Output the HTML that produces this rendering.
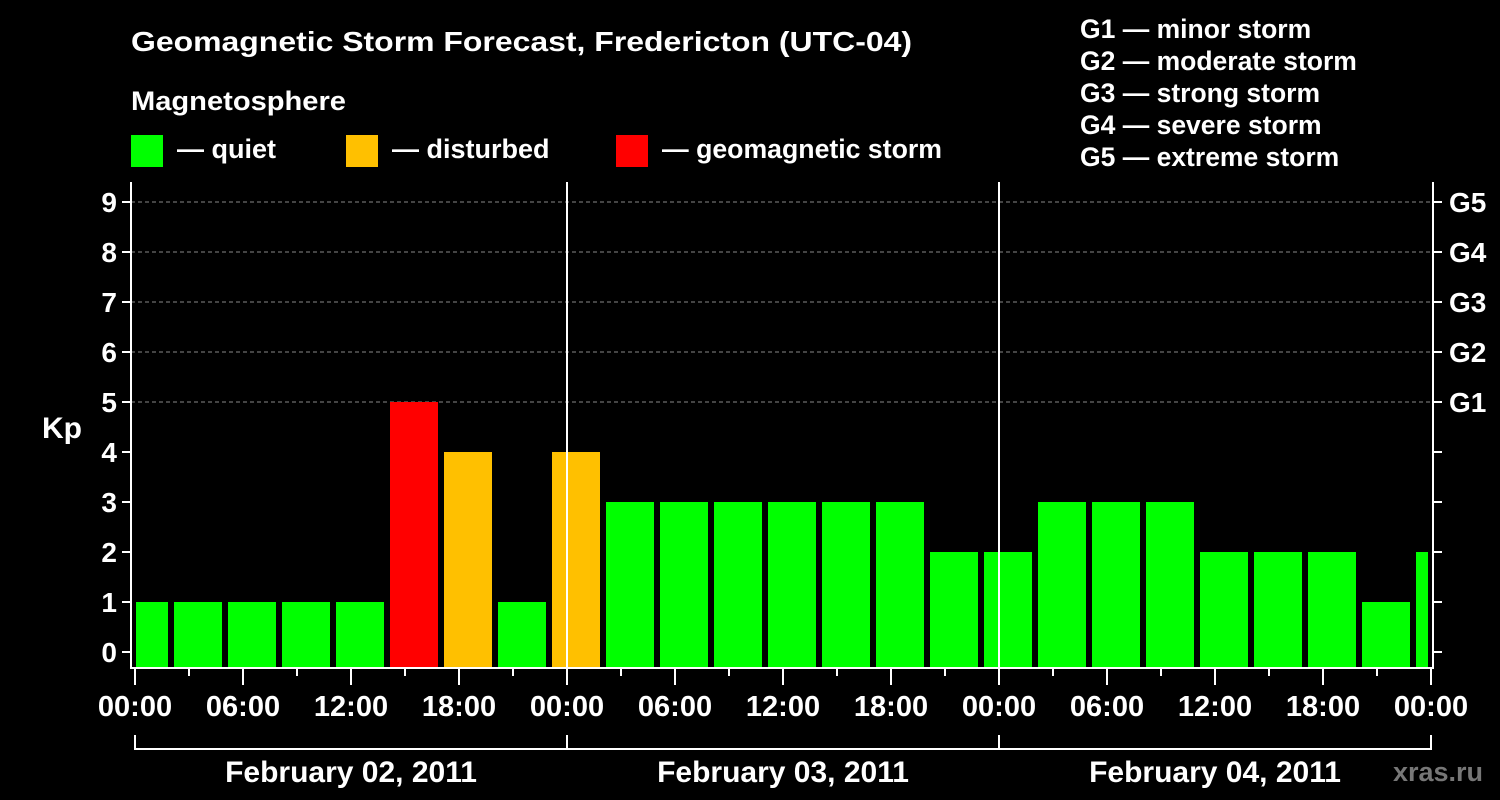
<!DOCTYPE html>
<html><head><meta charset="utf-8"><style>
html,body{margin:0;padding:0;background:#000;}
svg{display:block;font-family:"Liberation Sans",sans-serif;font-weight:bold;}
</style></head><body>
<svg id="chart" width="1500" height="800" viewBox="0 0 1500 800">
<rect width="1500" height="800" fill="#000"/>
<text x="131" y="51" fill="#fff" font-size="28" textLength="781" lengthAdjust="spacingAndGlyphs">Geomagnetic Storm Forecast, Fredericton (UTC-04)</text>
<text x="131" y="110" fill="#fff" font-size="27" textLength="215" lengthAdjust="spacingAndGlyphs">Magnetosphere</text>
<g><rect x="131" y="135" width="32" height="32" fill="#00ff00"/><text x="177" y="158" fill="#fff" font-size="27">— quiet</text></g>
<g><rect x="346" y="135" width="32" height="32" fill="#ffc000"/><text x="392" y="158" fill="#fff" font-size="27">— disturbed</text></g>
<g><rect x="616" y="135" width="32" height="32" fill="#ff0000"/><text x="662" y="158" fill="#fff" font-size="27" textLength="280" lengthAdjust="spacingAndGlyphs">— geomagnetic storm</text></g>
<g fill="#fff" font-size="26.5">
<text x="1080" y="38">G1 — minor storm</text>
<text x="1080" y="70">G2 — moderate storm</text>
<text x="1080" y="102">G3 — strong storm</text>
<text x="1080" y="134">G4 — severe storm</text>
<text x="1080" y="166">G5 — extreme storm</text>
</g>
<text x="42" y="438" fill="#fff" font-size="30">Kp</text>
<text x="1483" y="781" fill="#777" font-size="27" text-anchor="end">xras.ru</text>
<g id="grid"></g><g id="bars"></g><g id="axes"></g>
</svg>
<script>
const kpValues=[1,1,1,1,1,5,4,1,4,3,3,3,3,3,3,2,2,3,3,3,2,2,2,1,2];
const kpTicks=[0,1,2,3,4,5,6,7,8,9];
const gLabels=["G1","G2","G3","G4","G5"];
const timeLabels=["00:00","06:00","12:00","18:00","00:00","06:00","12:00","18:00","00:00","06:00","12:00","18:00","00:00"];
const dayLabels=["February 02, 2011","February 03, 2011","February 04, 2011"];
const NS="http://www.w3.org/2000/svg";
const X0=135,PXH=18,Y0=652,PXK=50,L=131,R=1433,B=668,T=182;
const x=h=>X0+h*PXH, y=k=>Y0-k*PXK;
function mk(tag,a,p){const e=document.createElementNS(NS,tag);for(const k in a)e.setAttribute(k,a[k]);p.appendChild(e);return e;}
const grid=document.getElementById('grid'),bars=document.getElementById('bars'),axes=document.getElementById('axes');
kpTicks.forEach(k=>{
 if(k>=5){const g=mk('line',{x1:L,x2:R,y1:y(k),y2:y(k),stroke:'#888','stroke-dasharray':'4,3','stroke-width':1},grid);
 
 }
 const t=mk('text',{x:117,y:y(k)+10,fill:'#fff','font-size':28,'text-anchor':'end'},axes);t.textContent=k;
 
 
 mk('line',{x1:122,x2:L,y1:y(k),y2:y(k),stroke:'#fff','stroke-width':2},axes);
 mk('line',{x1:R,x2:1442,y1:y(k),y2:y(k),stroke:'#fff','stroke-width':2},axes);
});
gLabels.forEach((g,i)=>{const t=mk('text',{x:1449,y:y(5+i)+10,fill:'#fff','font-size':28},axes);t.textContent=g;
 
 });
kpValues.forEach((v,i)=>{
 const c=x(3*i+0.5);let x1=c-24,x2=c+24;x1=Math.max(x1,136);x2=Math.min(x2,1428);
 const col=v>=5?'#ff0000':(v>=4?'#ffc000':'#00ff00');
 const r=mk('rect',{x:x1,y:y(v),width:x2-x1,height:B-1-y(v),fill:col},bars);
 
 
});
mk('line',{x1:L,x2:L,y1:T,y2:B+1,stroke:'#fff','stroke-width':2},axes);
mk('line',{x1:R,x2:R,y1:T,y2:B+1,stroke:'#fff','stroke-width':2},axes);
mk('line',{x1:L,x2:R,y1:B,y2:B,stroke:'#fff','stroke-width':2},axes);
[24,48].forEach(h=>mk('line',{x1:x(h),x2:x(h),y1:T,y2:B,stroke:'#fff','stroke-width':2},axes));
for(let h=0;h<=72;h+=3){const maj=h%6===0;mk('line',{x1:x(h),x2:x(h),y1:B,y2:maj?685:676,stroke:'#fff','stroke-width':2},axes);}
timeLabels.forEach((s,i)=>{const t=mk('text',{x:x(i*6),y:716,fill:'#fff','font-size':29,'text-anchor':'middle'},axes);t.textContent=s;
 
 });
mk('line',{x1:x(0),x2:x(72),y1:749,y2:749,stroke:'#fff','stroke-width':2},axes);
for(let d=0;d<=3;d++)mk('line',{x1:x(d*24),x2:x(d*24),y1:735,y2:750,stroke:'#fff','stroke-width':2},axes);
dayLabels.forEach((s,i)=>{const t=mk('text',{x:x(i*24+12),y:782,fill:'#fff','font-size':30,'text-anchor':'middle'},axes);t.textContent=s;
 
 });
</script>
</body></html>
